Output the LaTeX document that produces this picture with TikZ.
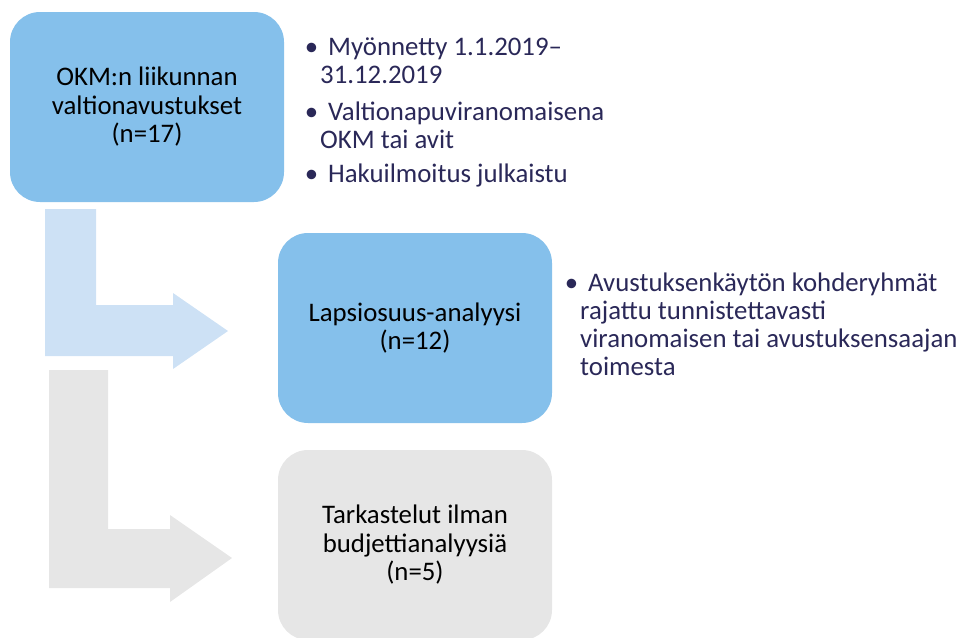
\documentclass[tikz,border=0pt]{standalone}
\usepackage{fontspec}
\setmainfont{Carlito}
\usepackage{xcolor}
\usepackage{tikz}
\usetikzlibrary{positioning}
\definecolor{boxblue}{RGB}{133,192,235}
\definecolor{arrowblue}{RGB}{205,225,245}
\definecolor{boxgray}{RGB}{230,230,230}
\definecolor{textnavy}{RGB}{42,40,88}
\newcommand{\bul}{\llap{\textbullet\hspace{2pt}}\hspace{8pt}}

\begin{document}
\begin{tikzpicture}[x=1pt,y=-1pt,
    stage/.style={rounded corners=30pt,minimum width=274pt,minimum height=190pt,
        inner sep=0pt,align=center,font=\fontsize{26.8}{28.5}\selectfont},
    note/.style={anchor=base west,inner sep=0pt,align=left,text=textnavy,
        font=\fontsize{26.8}{28}\selectfont}]
    \useasboundingbox (0,0) rectangle (958,637);
    \clip (0,0) rectangle (958,637);
    \fill[arrowblue] (45,209) -- (96,209) -- (96,305) -- (173,305) -- (173,293)
        -- (228,331) -- (173,369) -- (173,356) -- (45,356) -- cycle;
    \fill[boxgray] (49,370) -- (108,370) -- (108,529) -- (170,529) -- (170,515)
        -- (232,558) -- (170,602) -- (170,588) -- (49,588) -- cycle;
    \node[stage,fill=boxblue] (okm) at (147,107) {OKM:n liikunnan\\valtionavustukset\\(n=17)};
    \node[stage,fill=boxblue] (lapsi) at (415,328) {Lapsiosuus-analyysi\\(n=12)};
    \node[stage,fill=boxgray] (tark) at (415,545) {Tarkastelut ilman\\budjettianalyysiä\\(n=5)};
    \node[note] (myon) at (320,83) {\bul Myönnetty 1.1.2019–\\31.12.2019};
    \node[note] (viran) at (320,148) {\bul Valtionapuviranomaisena\\OKM tai avit};
    \node[note] (haku) at (320,182) {\bul Hakuilmoitus julkaistu};
    \node[note] (kohde) at (580,375) {\bul Avustuksenkäytön kohderyhmät\\rajattu tunnistettavasti\\viranomaisen tai avustuksensaajan\\toimesta};
\end{tikzpicture}
\end{document}
